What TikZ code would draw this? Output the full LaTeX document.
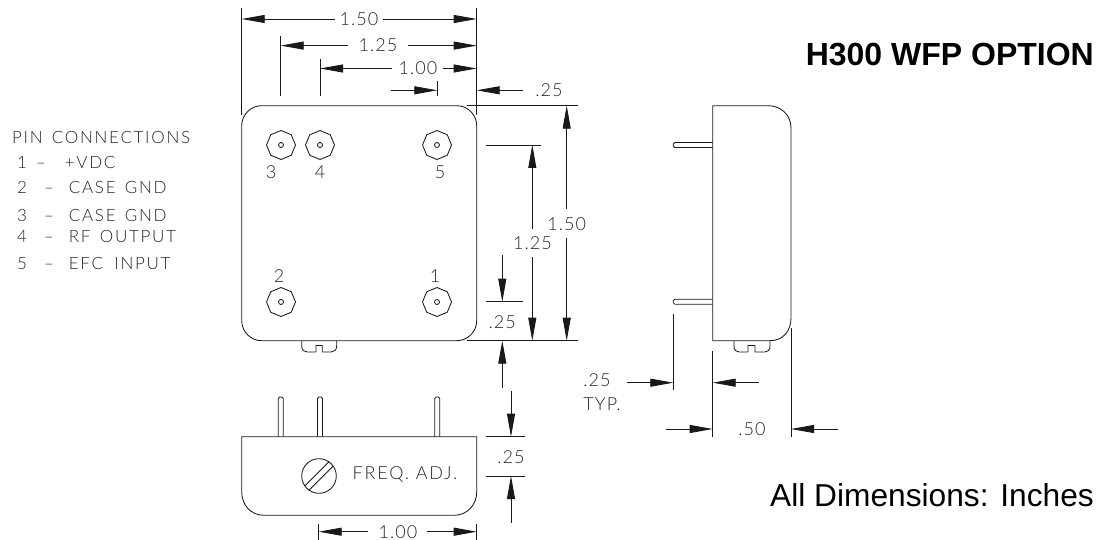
\documentclass[tikz,border=0pt]{standalone}
\usepackage{fontspec}
\usetikzlibrary{arrows.meta,shapes.geometric}
\setmainfont{Liberation Sans}
\newfontfamily\cad[UprightFont={* Light},LetterSpace=6]{Lato}
\newfontfamily\cadw[UprightFont={* Light},LetterSpace=10]{Lato}
\tikzset{
  ln/.style={line width=0.85pt,draw=black!90},
  dim/.style={ln,-{Triangle[length=23pt,width=8pt]}},
  lbl/.style={font=\cad\fontsize{18}{18}\selectfont,inner sep=0pt,text=black!85},
  pintxt/.style={font=\cadw\fontsize{17}{17}\selectfont,inner sep=0pt,anchor=west,text=black!85},
  title/.style={inner sep=0pt,anchor=east,font=\fontsize{32}{32}\selectfont},
  pinhead/.style={ln,regular polygon,regular polygon sides=8,shape border rotate=22.5,minimum size=29pt,inner sep=0pt},
  pinhole/.style={ln,circle,minimum size=5pt,inner sep=0pt},
}
\begin{document}
\begin{tikzpicture}[x=1pt,y=-1pt]
\useasboundingbox (0,0) rectangle (1113,540);
% titles
\node[title] (t1) at (1094,55) {\bfseries H300 WFP OPTION};
\node[title,font=\fontsize{31.7}{32}\selectfont] (t2) at (1094,495) {All Dimensions: Inches};
% pin list
\node[pintxt] (p0) at (12,137) {PIN\hspace{3pt} CONNECTIONS};
\node[pintxt] (p1) at (17,162) {1\hspace{9pt}–\hspace{19pt}+VDC};
\node[pintxt] (p2) at (17,187) {2\hspace{17pt}–\hspace{15pt}CASE\hspace{3pt} GND};
\node[pintxt] (p3) at (17,215) {3\hspace{17pt}–\hspace{15pt}CASE\hspace{3pt} GND};
\node[pintxt] (p4) at (17,236) {4\hspace{17pt}–\hspace{15pt}RF\hspace{3pt} OUTPUT};
\node[pintxt] (p5) at (17,263) {5\hspace{17pt}–\hspace{15pt}EFC\hspace{5pt} INPUT};
% top view body
\draw[ln] (261.7,105.7) -- (456.7,105.7) .. controls (467.7,105.7) and (476.7,114.7) .. (476.7,125.7) -- (476.7,320.7) .. controls (476.7,331.7) and (467.7,340.7) .. (456.7,340.7) -- (261.7,340.7) .. controls (250.7,340.7) and (241.7,331.7) .. (241.7,320.7) -- (241.7,125.7) .. controls (241.7,114.7) and (250.7,105.7) .. (261.7,105.7) -- cycle;
% pins
\foreach \n/\x/\y in {a/281/145,b/320/145,c/437/145,d/281/302,e/437/302}{
  \node[pinhead] (head\n) at (\x,\y) {};
  \node[pinhole] (hole\n) at (\x,\y) {};
}
\node[lbl] (n3) at (271,172) {3};
\node[lbl] (n4) at (320,172) {4};
\node[lbl] (n5) at (440,172) {5};
\node[lbl] (n2) at (279,276) {2};
\node[lbl] (n1) at (435,276) {1};
% top-view screw
\draw[ln] (301.7,340.7) -- (301.7,346) .. controls (301.7,350) and (304,352) .. (307,352) -- (316,352) -- (316,345.5) -- (322.3,345.5) -- (322.3,352) -- (331,352) .. controls (334,352) and (336.7,350) .. (336.7,346) -- (336.7,340.7);
% top dims
\draw[ln] (241.7,8) -- (241.7,115);
\draw[ln] (476.7,8) -- (476.7,115);
\draw[ln] (280.7,36) -- (280.7,96);
\draw[ln] (320,59) -- (320,96);
\draw[ln] (437.3,81) -- (437.3,96);
\node[lbl] (d150) at (359,19) {1.50};
\node[lbl] (d125) at (378,45.6) {1.25};
\node[lbl] (d100) at (418,68.5) {1.00};
\node[lbl] (d25a) at (549,90.3) {.25};
\draw[dim] (335,19) -- (241.7,19);
\draw[dim] (383,19) -- (476.7,19);
\draw[dim] (348,45.6) -- (280.7,45.6);
\draw[dim] (408,45.6) -- (476.7,45.6);
\draw[dim] (392,68.5) -- (320,68.5);
\draw[dim] (443,68.5) -- (476.7,68.5);
\draw[dim] (390.7,90.3) -- (437.3,90.3);
\draw[dim] (523,90.3) -- (476.7,90.3);
% right dims
\draw[ln] (466.7,105.7) -- (578.3,105.7);
\draw[ln] (466.7,340.7) -- (578.3,340.7);
\draw[ln] (486,145) -- (540.7,145);
\draw[ln] (486,301.7) -- (523,301.7);
\node[lbl] (d125b) at (532.5,243) {1.25};
\node[lbl] (d150b) at (566.7,224) {1.50};
\node[lbl] (d25b) at (502.3,322) {.25};
\draw[dim] (532.3,229) -- (532.3,145);
\draw[dim] (532.3,257) -- (532.3,340.7);
\draw[dim] (566.7,209) -- (566.7,105.7);
\draw[dim] (566.7,238) -- (566.7,340.7);
\draw[dim] (502.3,255) -- (502.3,301.7);
\draw[dim] (502.3,387.7) -- (502.3,340.7);
% bottom view
\foreach \n/\x in {a/280.7,b/320,c/437.3}{
  \draw[ln,rounded corners=1.5pt] (\x-2.5,436.7) -- (\x-2.5,397) -- (\x+2.5,397) -- (\x+2.5,436.7);
}
\draw[ln] (241.7,436.7) -- (476.7,436.7) -- (476.7,492) .. controls (476.7,505) and (467,515.3) .. (454,515.3) -- (264,515.3) .. controls (251,515.3) and (241.7,505) .. (241.7,492) -- cycle;
\node[ln,circle,minimum size=34.6pt,inner sep=0pt] (sc) at (319,476) {};
\draw[ln] ([shift={(14.1,-9.9)}]sc.center) -- ([shift={(-9.9,14.1)}]sc.center);
\draw[ln] ([shift={(9.9,-14.1)}]sc.center) -- ([shift={(-14.1,9.9)}]sc.center);
\node[lbl,font=\cadw\fontsize{18}{18}\selectfont] (fa) at (405,474) {FREQ. ADJ.};
\draw[ln] (486,436.7) -- (525,436.7);
\draw[ln] (486,476) -- (525,476);
\node[lbl] (d25c) at (511,457) {.25};
\draw[dim] (511,390.7) -- (511,436.7);
\draw[dim] (511,523) -- (511,476);
\draw[ln] (318.7,524) -- (318.7,540);
\draw[ln] (476.7,524) -- (476.7,540);
\node[lbl] (d100b) at (398,532) {1.00};
\draw[dim] (368,531.7) -- (318.7,531.7);
\draw[dim] (427,531.7) -- (476.7,531.7);
% side view
\draw[ln] (712.7,105.7) -- (768,105.7) .. controls (781,105.7) and (791,115) .. (791,128) -- (791,318) .. controls (791,331) and (783,340.7) .. (770,340.7) -- (712.7,340.7) -- cycle;
\foreach \n/\y in {a/145,b/301.7}{
  \draw[ln,rounded corners=1.5pt] (712.7,\y-2.5) -- (673.3,\y-2.5) -- (673.3,\y+2.5) -- (712.7,\y+2.5);
}
\draw[ln] (734,340.7) -- (734,346) .. controls (734,350) and (736,352) .. (739,352) -- (748,352) -- (748,345.5) -- (755,345.5) -- (755,352) -- (765,352) .. controls (768,352) and (770,350) .. (770,346) -- (770,340.7);
\draw[ln] (673.3,314) -- (673.3,390);
\draw[ln] (712.7,350.7) -- (712.7,436.7);
\draw[ln] (791,328) -- (791,436.7);
\node[lbl] (d25d) at (597,380) {.25};
\node[lbl] (typ) at (602,404) {TYP.};
\node[lbl] (d50) at (752,429) {.50};
\draw[dim] (626.7,382.7) -- (673.3,382.7);
\draw[dim] (759,382.7) -- (712.7,382.7);
\draw[dim] (665.7,429) -- (712.7,429);
\draw[dim] (837.7,429) -- (791,429);
\end{tikzpicture}
\end{document}
